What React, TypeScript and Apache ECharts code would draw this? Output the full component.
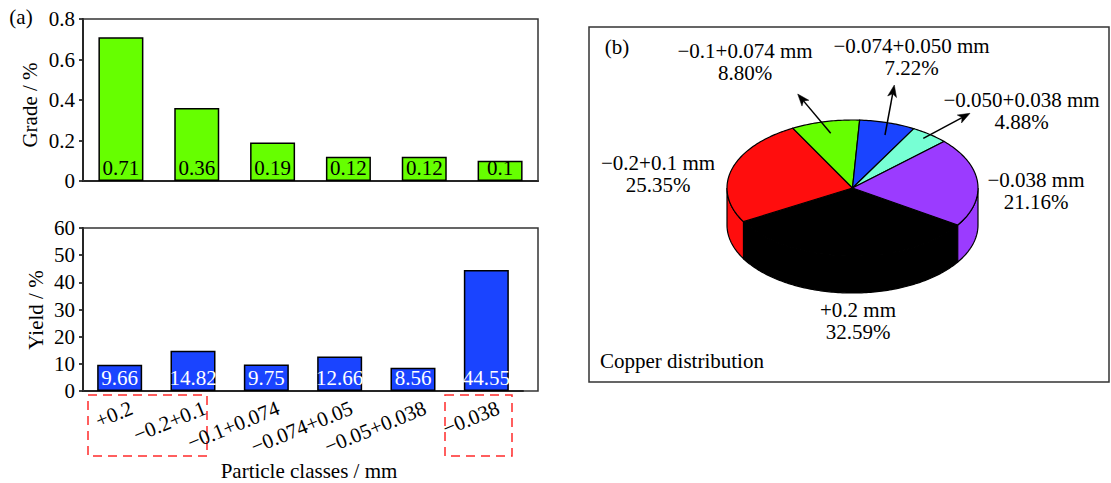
import React, { useEffect, useRef } from 'react';
import * as echarts from 'echarts';

// ---------- data ----------
const classes = ['+0.2', '−0.2+0.1', '−0.1+0.074', '−0.074+0.05', '−0.05+0.038', '−0.038'];
const grade = [0.71, 0.36, 0.19, 0.12, 0.12, 0.1];
const yieldPct = [9.66, 14.82, 9.75, 12.66, 8.56, 44.55];
const gradeAxis = { min: 0, max: 0.8, interval: 0.2 };
const yieldAxis = { min: 0, max: 60, interval: 10 };
const pieNames = ['+0.2', '−0.2+0.1', '−0.1+0.074', '−0.074+0.050', '−0.050+0.038', '−0.038'];
const copperDist = [32.59, 25.35, 8.8, 7.22, 4.88, 21.16];

// ---------- styles / layout ----------
const FONT = 'Liberation Serif, "Times New Roman", serif';
const FS = 21;
const pieColors = ['#000000', '#ff0d0d', '#66ff00', '#1a44ff', '#77ffd4', '#9b3bff'];
const PIE = { cx: 852.5, cy: 188, rx: 125.5, ry: 68, depth: 37, start: 33 };
const pieLabelPos: number[][] = [[858, 321], [658, 174], [745, 61.5], [911.5, 56.5], [1021.5, 111], [1036, 191]];
const pieArrows: (number[][] | null)[] = [
  null,
  null,
  [[830.7, 133.3], [797.7, 94]],
  [[885, 135], [894.3, 85]],
  [[923.3, 138.3], [970, 113.3]],
  null,
];

function arrowHead(p0: number[], p1: number[]) {
  const dx = p1[0] - p0[0];
  const dy = p1[1] - p0[1];
  const L = Math.sqrt(dx * dx + dy * dy);
  const ux = dx / L, uy = dy / L;
  const len = 12, w = 4.5;
  const bx = p1[0] - ux * len, by = p1[1] - uy * len;
  return [
    [p1[0], p1[1]],
    [bx - uy * w, by + ux * w],
    [bx + ux * 3, by + uy * 3],
    [bx + uy * w, by - ux * w],
  ];
}

export default function App() {
  const ref = useRef<HTMLDivElement>(null);
  useEffect(() => {
    document.body.style.margin = '0';
    const chart = echarts.init(ref.current!, null, { renderer: 'svg' });
    const total = copperDist.reduce((a, b) => a + b, 0);
    const txt = { fontFamily: FONT, fontSize: FS, color: '#000' };

    const option: any = {
      animation: false,
      backgroundColor: '#fff',
      grid: [
        { left: 83, top: 19, width: 455, height: 162 },
        { left: 83, top: 228, width: 440, height: 163 },
      ],
      xAxis: [
        {
          type: 'category', gridIndex: 0, data: classes,
          axisLine: { lineStyle: { color: '#000', width: 2 } },
          axisTick: { inside: true, alignWithLabel: true, length: 5, lineStyle: { color: '#000', width: 1.5 } },
          axisLabel: { show: false },
        },
        {
          type: 'category', gridIndex: 1, data: classes,
          axisLine: { lineStyle: { color: '#000', width: 2 } },
          axisTick: { inside: true, alignWithLabel: true, length: 5, lineStyle: { color: '#000', width: 1.5 } },
          axisLabel: { ...txt, rotate: 22, margin: 21, interval: 0, padding: [0, -13, 0, 0] },
        },
      ],
      yAxis: [
        {
          type: 'value', gridIndex: 0, ...gradeAxis,
          splitLine: { show: false },
          axisLine: { show: true, lineStyle: { color: '#000', width: 2 } },
          axisTick: { show: true, length: 4, lineStyle: { color: '#000', width: 1.5 } },
          axisLabel: { ...txt, margin: 8 },
        },
        {
          type: 'value', gridIndex: 1, ...yieldAxis,
          splitLine: { show: false },
          axisLine: { show: true, lineStyle: { color: '#000', width: 2 } },
          axisTick: { show: true, length: 4, lineStyle: { color: '#000', width: 1.5 } },
          axisLabel: { ...txt, margin: 8 },
        },
      ],
      series: [
        {
          type: 'bar', xAxisIndex: 0, yAxisIndex: 0, data: grade, barWidth: 45,
          itemStyle: { color: '#66ff00', borderColor: '#000', borderWidth: 1.5 },
          label: { show: true, position: 'insideBottom', distance: 3, ...txt },
        },
        {
          type: 'bar', xAxisIndex: 1, yAxisIndex: 1, data: yieldPct, barWidth: 45,
          itemStyle: { color: '#1a44ff', borderColor: '#000', borderWidth: 1.5 },
          label: { show: true, position: 'insideBottom', distance: 3, ...txt, color: '#fff' },
        },
        {
          type: 'custom',
          coordinateSystem: 'none',
          data: copperDist.map((v) => [v]),
          renderItem: (params: any, api: any) => {
            const i = params.dataIndex;
            let before = 0;
            for (let k = 0; k < i; k++) before += copperDist[k];
            const a0 = PIE.start + (before / total) * 360;
            const a1 = a0 + (api.value(0) / total) * 360;
            const pt = (deg: number, dy = 0) => [
              PIE.cx + PIE.rx * Math.cos((deg * Math.PI) / 180),
              PIE.cy + PIE.ry * Math.sin((deg * Math.PI) / 180) + dy,
            ];
            const arc = (s: number, e: number, dy = 0) => {
              const pts: number[][] = [];
              const n = Math.max(2, Math.ceil(e - s));
              for (let j = 0; j <= n; j++) pts.push(pt(s + ((e - s) * j) / n, dy));
              return pts;
            };
            const color = pieColors[i];
            const children: any[] = [];
            for (const base of [0, 360]) {
              const s = Math.max(a0, base);
              const e = Math.min(a1, base + 180);
              if (e > s) {
                const top = arc(s, e);
                const bot = arc(s, e, PIE.depth).reverse();
                children.push({
                  type: 'polygon', shape: { points: top.concat(bot) },
                  style: { fill: color, stroke: '#000', lineWidth: 1.2 },
                });
              }
            }
            children.push({
              type: 'polygon', shape: { points: [[PIE.cx, PIE.cy], ...arc(a0, a1)] },
              style: { fill: color, stroke: '#000', lineWidth: 1.2 },
            });
            const lp = pieLabelPos[i];
            children.push({
              type: 'text', x: lp[0], y: lp[1],
              style: {
                text: `${pieNames[i]} mm\n${api.value(0).toFixed(2)}%`,
                font: `${FS}px ${FONT}`, fill: '#000',
                align: 'center', verticalAlign: 'middle',
                textAlign: 'center', textVerticalAlign: 'middle', lineHeight: 22,
              },
            });
            const ar = pieArrows[i];
            if (ar) {
              const head = arrowHead(ar[0], ar[1]);
              const ux = head[2];
              children.push({
                type: 'line',
                shape: { x1: ar[0][0], y1: ar[0][1], x2: ux[0], y2: ux[1] },
                style: { stroke: '#000', lineWidth: 1.5 },
              });
              children.push({
                type: 'polygon', shape: { points: head },
                style: { fill: '#000', stroke: '#000', lineWidth: 0.5 },
              });
            }
            return { type: 'group', children };
          },
        },
      ],
      graphic: [
        { type: 'rect', shape: { x: 83, y: 19, width: 455, height: 162 }, style: { fill: 'none', stroke: '#333', lineWidth: 1.5 }, z: 1 },
        { type: 'rect', shape: { x: 83, y: 228, width: 455, height: 163 }, style: { fill: 'none', stroke: '#333', lineWidth: 1.5 }, z: 1 },
        { type: 'text', x: 21, y: 17, style: { text: '(a)', font: `${FS}px ${FONT}`, fill: '#000', textAlign: 'center', textVerticalAlign: 'middle' } },
        { type: 'text', x: 29.5, y: 105, rotation: Math.PI / 2, style: { text: 'Grade / %', font: `${FS}px ${FONT}`, fill: '#000', textAlign: 'center', textVerticalAlign: 'middle' } },
        { type: 'text', x: 36, y: 310, rotation: Math.PI / 2, style: { text: 'Yield / %', font: `${FS}px ${FONT}`, fill: '#000', textAlign: 'center', textVerticalAlign: 'middle' } },
        { type: 'text', x: 309, y: 471, style: { text: 'Particle classes / mm', font: `${FS}px ${FONT}`, fill: '#000', textAlign: 'center', textVerticalAlign: 'middle' } },
        { type: 'rect', shape: { x: 88, y: 395, width: 119, height: 61 }, style: { fill: 'none', stroke: '#ff2a2a', lineWidth: 1.5, lineDash: [9, 6] } },
        { type: 'rect', shape: { x: 445, y: 395, width: 67, height: 61 }, style: { fill: 'none', stroke: '#ff2a2a', lineWidth: 1.5, lineDash: [9, 6] } },
        { type: 'rect', shape: { x: 589, y: 27, width: 520, height: 355 }, style: { fill: 'none', stroke: '#333', lineWidth: 1.5 } },
        { type: 'text', x: 617, y: 47, style: { text: '(b)', font: `${FS}px ${FONT}`, fill: '#000', textAlign: 'center', textVerticalAlign: 'middle' } },
        { type: 'text', x: 600, y: 361, style: { text: 'Copper distribution', font: `${FS}px ${FONT}`, fill: '#000', textAlign: 'left', textVerticalAlign: 'middle' } },
      ],
    };
    chart.setOption(option);
    return () => chart.dispose();
  }, []);
  return <div ref={ref} style={{ width: 1111, height: 483 }} />;
}
